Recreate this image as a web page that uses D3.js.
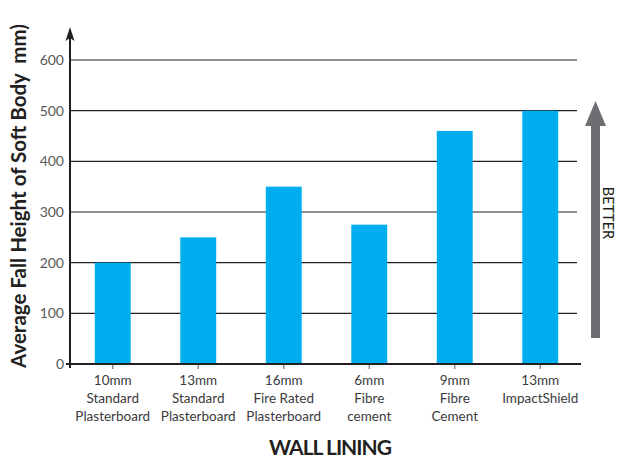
<!DOCTYPE html>
<html>
<head>
<meta charset="utf-8">
<script src="https://cdn.jsdelivr.net/npm/d3@7"></script>
<style>
  body { margin: 0; background: #fff; }
  svg { display: block; }
  text { font-family: Lato, "Open Sans", sans-serif; }
</style>
</head>
<body>
<svg id="chart" width="619" height="459"></svg>
<script>
// wall linings along the bottom, each label split over lines
var categories = [
  ["10mm", "Standard", "Plasterboard"],
  ["13mm", "Standard", "Plasterboard"],
  ["16mm", "Fire Rated", "Plasterboard"],
  ["6mm", "Fibre", "cement"],
  ["9mm", "Fibre", "Cement"],
  ["13mm", "ImpactShield"]
];
var heights = [200, 250, 350, 275, 460, 500];
var yTicks = [0, 100, 200, 300, 400, 500, 600];

var svg = d3.select("#chart");
var plotLeft = 70, plotRight = 583, plotTop = 60, plotBottom = 364;

var x = d3.scaleBand()
  .domain(d3.range(categories.length))
  .range([plotLeft, plotRight])
  .paddingInner(0.58)
  .paddingOuter(0.29);

var y = d3.scaleLinear().domain([0, 600]).range([plotBottom, plotTop]);

// gridlines
svg.append("g")
  .selectAll("line")
  .data(yTicks.filter(function(d) { return d > 0; }))
  .enter().append("line")
    .attr("x1", plotLeft).attr("x2", 577)
    .attr("y1", function(d) { return y(d); })
    .attr("y2", function(d) { return y(d); })
    .attr("stroke", "#231f20")
    .attr("stroke-width", 1.2);

// bars
svg.append("g")
  .selectAll("rect")
  .data(heights)
  .enter().append("rect")
    .attr("x", function(d, i) { return x(i); })
    .attr("width", x.bandwidth())
    .attr("y", function(d) { return y(d); })
    .attr("height", function(d) { return plotBottom - y(d); })
    .attr("fill", "#00aeef");

// y tick labels
var yAxis = d3.axisLeft(y).tickValues(yTicks).tickSize(0).tickPadding(6);
var yg = svg.append("g").attr("transform", "translate(" + plotLeft + ",0)").call(yAxis);
yg.select(".domain").remove();
yg.selectAll("text")
  .attr("font-size", 14)
  .attr("fill", "#58595b")
  .attr("font-family", "Lato, sans-serif");

// x ticks (small grey marks below axis)
svg.append("g")
  .selectAll("line")
  .data(d3.range(categories.length))
  .enter().append("line")
    .attr("x1", function(i) { return x(i) + x.bandwidth() / 2; })
    .attr("x2", function(i) { return x(i) + x.bandwidth() / 2; })
    .attr("y1", plotBottom).attr("y2", plotBottom + 5)
    .attr("stroke", "#808080")
    .attr("stroke-width", 1.3);

// x axis line
svg.append("line")
  .attr("x1", 66).attr("x2", 581)
  .attr("y1", plotBottom).attr("y2", plotBottom)
  .attr("stroke", "#231f20").attr("stroke-width", 2);

// y axis line with arrow
svg.append("line")
  .attr("x1", plotLeft).attr("x2", plotLeft)
  .attr("y1", plotBottom + 4).attr("y2", 36)
  .attr("stroke", "#231f20").attr("stroke-width", 2);
svg.append("path")
  .attr("d", d3.line()([[plotLeft, 27], [plotLeft - 4.5, 41], [plotLeft, 38], [plotLeft + 4.5, 41]]) + "Z")
  .attr("fill", "#231f20");

// category labels
var lab = svg.append("g")
  .selectAll("text")
  .data(categories)
  .enter().append("text")
    .attr("text-anchor", "middle")
    .attr("font-size", 13.5)
    .attr("fill", "#3b3b3d")
    .attr("transform", function(d, i) {
      return "translate(" + (x(i) + x.bandwidth() / 2) + ",385)";
    });
lab.selectAll("tspan")
  .data(function(d) { return d; })
  .enter().append("tspan")
    .attr("x", 0)
    .attr("y", function(d, i) { return i * 18; })
    .text(function(d) { return d; });

// axis titles
svg.append("text")
  .attr("x", 330).attr("y", 455)
  .attr("text-anchor", "middle")
  .attr("font-size", 21)
  .attr("font-weight", "bold")
  .attr("letter-spacing", -1)
  .attr("fill", "#231f20")
  .text("WALL LINING");

svg.append("text")
  .attr("transform", "translate(26,196) rotate(-90)")
  .attr("text-anchor", "middle")
  .attr("font-size", 20.5)
  .attr("font-weight", "bold")
  .attr("fill", "#231f20")
  .style("white-space", "pre")
  .text("Average Fall Height of Soft Body  mm)");

// "better" arrow on the right
svg.append("rect")
  .attr("x", 591).attr("y", 120)
  .attr("width", 9).attr("height", 218)
  .attr("fill", "#6d6e71");
svg.append("path")
  .attr("d", d3.line()([[595.5, 101], [585, 126], [606, 126]]) + "Z")
  .attr("fill", "#6d6e71");
svg.append("text")
  .attr("transform", "translate(603,213) rotate(90)")
  .attr("text-anchor", "middle")
  .attr("font-size", 14.5)
  .attr("fill", "#231f20")
  .text("BETTER");
</script>
</body>
</html>
